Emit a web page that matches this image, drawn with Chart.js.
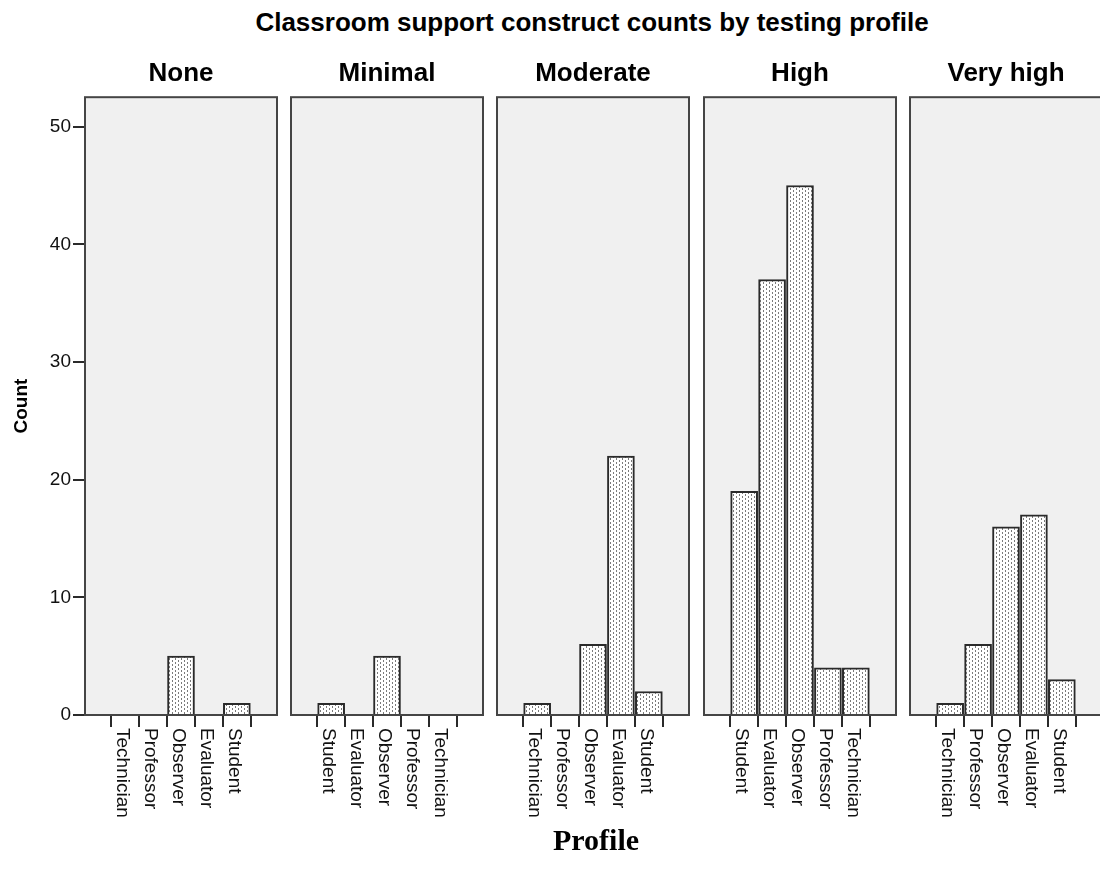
<!DOCTYPE html>
<html>
<head>
<meta charset="utf-8">
<script src="https://cdn.jsdelivr.net/npm/chart.js@4.4.1/dist/chart.umd.min.js"></script>
<style>
  html, body { margin: 0; padding: 0; background: #fff; overflow: hidden; width: 1100px; height: 875px; }
  #title { position: absolute; left: 92px; top: 6px; width: 1000px; text-align: center;
           font: bold 26px "Liberation Sans", Arial, sans-serif; color: #000; line-height: 32px; }
  #xlabel { position: absolute; left: 496px; top: 822px; width: 200px; text-align: center;
            font: bold 30px "Liberation Serif", "Times New Roman", serif; color: #000; line-height: 36px; }
  canvas { position: absolute; top: 50px; }
</style>
</head>
<body>
<div id="title">Classroom support construct counts by testing profile</div>
<canvas id="p0" width="285" height="800" style="left:0px"></canvas>
<canvas id="p1" width="208" height="800" style="left:283px"></canvas>
<canvas id="p2" width="208" height="800" style="left:489px"></canvas>
<canvas id="p3" width="208" height="800" style="left:696px"></canvas>
<canvas id="p4" width="208" height="800" style="left:902px"></canvas>
<div id="xlabel">Profile</div>
<script>
// testing profiles (one panel each)
const profiles = ['None', 'Minimal', 'Moderate', 'High', 'Very high'];

// role order and counts per panel
const noneRoles = ['Technician', 'Professor', 'Observer', 'Evaluator', 'Student'];
const noneCounts = [0, 0, 5, 0, 1];
const minimalRoles = ['Student', 'Evaluator', 'Observer', 'Professor', 'Technician'];
const minimalCounts = [1, 0, 5, 0, 0];
const moderateRoles = ['Technician', 'Professor', 'Observer', 'Evaluator', 'Student'];
const moderateCounts = [1, 0, 6, 22, 2];
const highRoles = ['Student', 'Evaluator', 'Observer', 'Professor', 'Technician'];
const highCounts = [19, 37, 45, 4, 4];
const veryHighRoles = ['Technician', 'Professor', 'Observer', 'Evaluator', 'Student'];
const veryHighCounts = [1, 6, 16, 17, 3];

const yTicks = [0, 10, 20, 30, 40, 50];
const yMax = 52.5;

Chart.defaults.font.family = '"Liberation Sans", Arial, sans-serif';
Chart.defaults.color = '#111';

// dotted fill like the SPSS bars
function stipple() {
  const c = document.createElement('canvas');
  c.width = 6; c.height = 4;
  const g = c.getContext('2d');
  g.fillStyle = '#fff';
  g.fillRect(0, 0, 6, 4);
  g.fillStyle = '#7a7a7a';
  g.fillRect(1, 0, 1, 2);
  g.fillRect(4, 2, 1, 2);
  return g.createPattern(c, 'repeat');
}
const barFill = stipple();

const panelFrame = {
  id: 'panelFrame',
  beforeDraw(chart) {
    const { ctx, chartArea: a } = chart;
    ctx.save();
    ctx.fillStyle = '#f0f0f0';
    ctx.fillRect(a.left, a.top, a.right - a.left, a.bottom - a.top);
    ctx.restore();
  },
  afterDatasetsDraw(chart) {
    const { ctx, chartArea: a } = chart;
    ctx.save();
    ctx.strokeStyle = '#454545';
    ctx.lineWidth = 2;
    ctx.strokeRect(a.left, a.top, a.right - a.left, a.bottom - a.top);
    ctx.restore();
  }
};

// x labels read top-to-bottom (rotated clockwise), which Chart.js won't do by itself
const roleLabels = {
  id: 'roleLabels',
  afterDraw(chart, args, opts) {
    const ctx = chart.ctx;
    const xs = chart.scales.x;
    const bottom = chart.chartArea.bottom;
    ctx.save();
    ctx.font = '19px "Liberation Sans", Arial, sans-serif';
    ctx.fillStyle = '#111';
    ctx.textAlign = 'left';
    ctx.textBaseline = 'middle';
    opts.labels.forEach((lab, i) => {
      ctx.save();
      ctx.translate(xs.getPixelForValue(i) - 3, bottom + 13);
      ctx.rotate(Math.PI / 2);
      ctx.fillText(lab, 0, 0);
      ctx.restore();
    });
    ctx.restore();
  }
};

function makePanel(id, idx, roles, counts) {
  const first = idx === 0;
  return new Chart(document.getElementById(id), {
    type: 'bar',
    data: {
      datasets: [{
        data: counts.map((v, i) => ({ x: i, y: v })),
        backgroundColor: barFill,
        borderColor: '#2a2a2a',
        borderWidth: 2,
        barThickness: 27
      }]
    },
    options: {
      responsive: false,
      animation: false,
      layout: { padding: { left: first ? 0 : 8, right: 8, top: 0, bottom: 0 } },
      plugins: {
        legend: { display: false },
        tooltip: { enabled: false },
        title: {
          display: true,
          text: profiles[idx],
          fullSize: false,
          color: '#000',
          font: { size: 26, weight: 'bold' },
          padding: { top: 8, bottom: 8 }
        },
        roleLabels: { labels: roles }
      },
      scales: {
        x: {
          type: 'linear',
          min: -0.75,
          max: 4.75,
          afterBuildTicks: s => { s.ticks = roles.map((r, i) => ({ value: i })); },
          afterFit: s => { s.height = 135; },
          ticks: { display: false },
          grid: { drawOnChartArea: false, tickLength: 12, color: '#2a2a2a', lineWidth: 2 },
          border: { display: false }
        },
        y: {
          display: first,
          min: 0,
          max: yMax,
          afterBuildTicks: s => { s.ticks = yTicks.map(v => ({ value: v })); },
          afterFit: s => { s.width = first ? 85 : 0; },
          ticks: { font: { size: 19 }, color: '#111', padding: 2 },
          grid: { drawOnChartArea: false, tickLength: 12, color: '#2a2a2a', lineWidth: 2 },
          border: { display: false },
          title: { display: true, text: 'Count', color: '#000', font: { size: 19, weight: 'bold' }, padding: 10 }
        }
      }
    },
    plugins: [panelFrame, roleLabels]
  });
}

makePanel('p0', 0, noneRoles, noneCounts);
makePanel('p1', 1, minimalRoles, minimalCounts);
makePanel('p2', 2, moderateRoles, moderateCounts);
makePanel('p3', 3, highRoles, highCounts);
makePanel('p4', 4, veryHighRoles, veryHighCounts);
</script>
</body>
</html>
